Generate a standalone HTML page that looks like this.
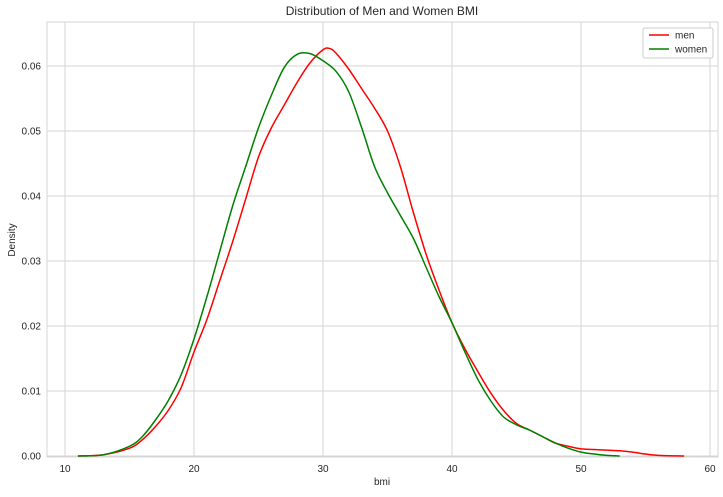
<!DOCTYPE html>
<html><head><meta charset="utf-8"><style>
body{margin:0;background:#fff;font-family:"Liberation Sans",sans-serif;}
svg text{font-family:"Liberation Sans",sans-serif;fill:#262626;}
</style></head><body>
<svg id="c" width="723" height="492"></svg>
<script>
const xTicks=[10,20,30,40,50,60];
const yTicks=[0,0.01,0.02,0.03,0.04,0.05,0.06];
const menX=[11,13,15,16,17,18,19,20,21,22,23,24,25,26,27,28,29,30,30.5,31,32,33,34,35,36,37,38,39,40,41,42,43,44,45,46,47,48,49,50,51,52,53,54,55,56,58];
const menY=[0,0.0002,0.0012,0.0025,0.0045,0.007,0.0105,0.016,0.021,0.027,0.033,0.0395,0.046,0.0505,0.054,0.0575,0.0605,0.0625,0.0627,0.062,0.0595,0.0565,0.0535,0.05,0.0445,0.0375,0.031,0.0255,0.0205,0.0165,0.013,0.0097,0.007,0.005,0.004,0.003,0.002,0.0015,0.0011,0.001,0.0009,0.0008,0.0006,0.0003,0.0001,0];
const womenX=[11,13,15,16,17,18,19,20,21,22,23,24,25,26,27,28,29,30,31,32,33,34,35,36,37,38,39,40,41,42,43,44,45,46,47,48,49,50,51,52,53];
const womenY=[0,0.0002,0.0015,0.003,0.0055,0.0085,0.0125,0.018,0.0245,0.0315,0.0385,0.0445,0.0505,0.0555,0.0598,0.0618,0.0619,0.0608,0.0592,0.056,0.0505,0.0445,0.0405,0.037,0.0335,0.029,0.0245,0.0205,0.016,0.0118,0.0085,0.006,0.0048,0.004,0.003,0.002,0.0012,0.0006,0.0003,0.0001,0];
const L=47,R=718,T=22,B=457;
const sx=v=>65+(v-10)*12.9;
const sy=v=>456-v*6500;
const svg=document.getElementById('c');
const NS='http://www.w3.org/2000/svg';
function mk(t,a,p){const e=document.createElementNS(NS,t);for(const k in a)e.setAttribute(k,a[k]);(p||svg).appendChild(e);return e;}
xTicks.forEach(v=>{
 const g=mk('line',{x1:sx(v),x2:sx(v),y1:T,y2:B,stroke:'#d5d5d5','stroke-width':1});
 
 
 const t=mk('text',{x:sx(v),y:472,'text-anchor':'middle','font-size':10});t.textContent=v;
 
 
});
yTicks.forEach(v=>{
 const g=mk('line',{x1:L,x2:R,y1:sy(v),y2:sy(v),stroke:'#d5d5d5','stroke-width':1});
 
 
 const t=mk('text',{x:41,y:sy(v)+3.5,'text-anchor':'end','font-size':10});t.textContent=v===0?'0.00':v.toFixed(2);
 
 
});
const fr=mk('rect',{x:L,y:T,width:R-L,height:B-T,fill:'none',stroke:'#d5d5d5'});


function path(xs,ys){
 const p=xs.map((x,i)=>[sx(x),sy(ys[i])]);
 let d='M'+p[0][0]+','+p[0][1];
 for(let i=0;i<p.length-1;i++){
  const p0=p[i-1]||p[i],p1=p[i],p2=p[i+1],p3=p[i+2]||p2;
  const c1=[p1[0]+(p2[0]-p0[0])/6,p1[1]+(p2[1]-p0[1])/6];
  const c2=[p2[0]-(p3[0]-p1[0])/6,p2[1]-(p3[1]-p1[1])/6];
  d+=' C'+c1+' '+c2+' '+p2;
 }
 return d;
}
const m=mk('path',{d:path(menX,menY),fill:'none',stroke:'red','stroke-width':1.5});


const w=mk('path',{d:path(womenX,womenY),fill:'none',stroke:'green','stroke-width':1.5});


</script>
<svg style="position:absolute;left:0;top:0" width="723" height="492">
<text x="382" y="15" text-anchor="middle" font-size="12">Distribution of Men and Women BMI</text>
<text x="382" y="485" text-anchor="middle" font-size="10">bmi</text>
<text x="15" y="240" text-anchor="middle" font-size="10" transform="rotate(-90 15 240)">Density</text>
<g>
<rect x="643" y="28" width="70" height="30" rx="2" fill="#fff" stroke="#ccc"/>
<line x1="649" x2="669" y1="35" y2="35" stroke="red" stroke-width="1.5"/>
<text x="675" y="38.5" font-size="10">men</text>
<line x1="649" x2="669" y1="49" y2="49" stroke="green" stroke-width="1.5"/>
<text x="675" y="52.5" font-size="10">women</text>
</g>
</svg>
</body></html>
